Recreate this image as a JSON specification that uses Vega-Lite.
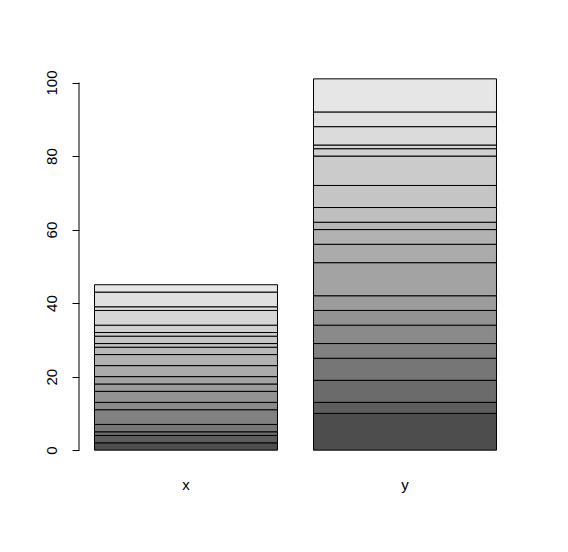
{
  "$schema": "https://vega.github.io/schema/vega-lite/v6.json",
  "autosize": {"type": "none"},
  "padding": {"left": 79, "top": 64, "right": 56, "bottom": 87},
  "width": 433,
  "height": 401,
  "background": "white",
  "config": {"view": {"stroke": null}, "font": "Liberation Sans"},
  "resolve": {"scale": {"x": "independent"}},
  "layer": [
    {
      "data": {"values": [
        {"group": "x", "seg": 1, "value": 2},
        {"group": "x", "seg": 2, "value": 2},
        {"group": "x", "seg": 3, "value": 1},
        {"group": "x", "seg": 4, "value": 2},
        {"group": "x", "seg": 5, "value": 4},
        {"group": "x", "seg": 6, "value": 2},
        {"group": "x", "seg": 7, "value": 3},
        {"group": "x", "seg": 8, "value": 2},
        {"group": "x", "seg": 9, "value": 2},
        {"group": "x", "seg": 10, "value": 3},
        {"group": "x", "seg": 11, "value": 3},
        {"group": "x", "seg": 12, "value": 2},
        {"group": "x", "seg": 13, "value": 1},
        {"group": "x", "seg": 14, "value": 2},
        {"group": "x", "seg": 15, "value": 1},
        {"group": "x", "seg": 16, "value": 2},
        {"group": "x", "seg": 17, "value": 4},
        {"group": "x", "seg": 18, "value": 1},
        {"group": "x", "seg": 19, "value": 4},
        {"group": "x", "seg": 20, "value": 2},
        {"group": "y", "seg": 1, "value": 10},
        {"group": "y", "seg": 2, "value": 3},
        {"group": "y", "seg": 3, "value": 6},
        {"group": "y", "seg": 4, "value": 6},
        {"group": "y", "seg": 5, "value": 4},
        {"group": "y", "seg": 6, "value": 5},
        {"group": "y", "seg": 7, "value": 4},
        {"group": "y", "seg": 8, "value": 4},
        {"group": "y", "seg": 9, "value": 9},
        {"group": "y", "seg": 10, "value": 5},
        {"group": "y", "seg": 11, "value": 4},
        {"group": "y", "seg": 12, "value": 2},
        {"group": "y", "seg": 13, "value": 4},
        {"group": "y", "seg": 14, "value": 6},
        {"group": "y", "seg": 15, "value": 8},
        {"group": "y", "seg": 16, "value": 2},
        {"group": "y", "seg": 17, "value": 1},
        {"group": "y", "seg": 18, "value": 5},
        {"group": "y", "seg": 19, "value": 4},
        {"group": "y", "seg": 20, "value": 9}
      ]},
      "mark": {"type": "bar", "stroke": "black", "strokeWidth": 1, "opacity": 1},
      "encoding": {
        "x": {
          "field": "group", "type": "nominal",
          "scale": {"paddingInner": 0.1644, "paddingOuter": 0.0708},
          "axis": {"title": null, "domain": false, "ticks": false, "tickSize": 0, "labelAngle": 0,
                   "labelFontSize": 15, "labelColor": "black", "labelPadding": 24, "labelBaseline": "alphabetic"}
        },
        "y": {
          "field": "value", "type": "quantitative", "stack": "zero",
          "scale": {"domain": [-4.04, 105.04], "nice": false, "zero": false},
          "axis": {"title": null, "grid": false, "domain": false, "values": [0, 20, 40, 60, 80, 100],
                   "tickSize": 7, "tickColor": "black", "labelAngle": -90, "labelAlign": "center",
                   "labelBaseline": "alphabetic", "labelPadding": 16, "labelFontSize": 15, "labelColor": "black"}
        },
        "order": {"field": "seg", "type": "quantitative"},
        "color": {
          "field": "seg", "type": "ordinal", "legend": null,
          "scale": {"domain": [1,2,3,4,5,6,7,8,9,10,11,12,13,14,15,16,17,18,19,20],
                    "range": ["#4D4D4D","#5D5D5D","#6B6B6B","#767676","#818181","#8A8A8A","#939393","#9B9B9B","#A3A3A3","#ABABAB","#B2B2B2","#B8B8B8","#BFBFBF","#C5C5C5","#CBCBCB","#D0D0D0","#D6D6D6","#DBDBDB","#E0E0E0","#E6E6E6"]}
        }
      }
    },
    {
      "data": {"values": [{"lo": 0, "hi": 100, "pos": 0}]},
      "mark": {"type": "rule", "color": "black", "strokeWidth": 1},
      "encoding": {
        "x": {"field": "pos", "type": "quantitative", "scale": {"domain": [0, 1]}, "axis": null},
        "y": {"field": "lo", "type": "quantitative"},
        "y2": {"field": "hi"}
      }
    }
  ]
}
